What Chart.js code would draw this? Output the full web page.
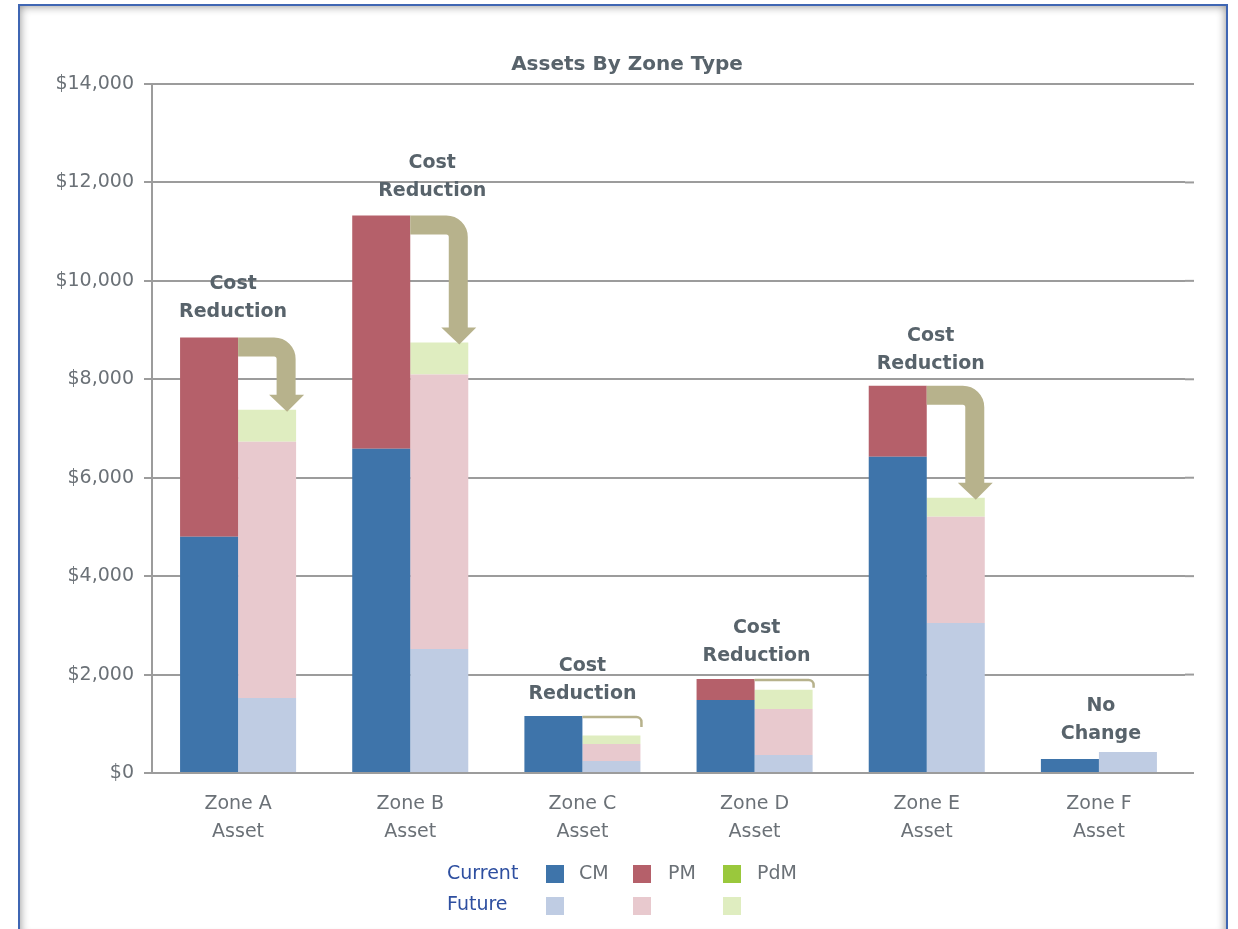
<!DOCTYPE html>
<html>
<head>
<meta charset="utf-8">
<title>Assets By Zone Type</title>
<script src="https://cdn.jsdelivr.net/npm/chart.js@4.4.0/dist/chart.umd.min.js"></script>
<style>
  html, body { margin: 0; padding: 0; background: #fff; }
  #wrap { position: relative; width: 1238px; height: 929px; overflow: hidden; }
  #myChart { position: absolute; left: 0; top: 0; }
  #frame {
    position: absolute; left: 18px; top: 4px; width: 1210px; height: 935px;
    box-sizing: border-box; border: 2px solid #3f66b3;
    box-shadow: inset 0 0 10px rgba(0, 0, 0, 0.45);
    pointer-events: none;
  }
</style>
</head>
<body>
<div id="wrap">
  <canvas id="myChart" width="1238" height="929"></canvas>
  <div id="frame"></div>
</div>
<script>
'use strict';

const zones = [['Zone A', 'Asset'], ['Zone B', 'Asset'], ['Zone C', 'Asset'], ['Zone D', 'Asset'], ['Zone E', 'Asset'], ['Zone F', 'Asset']];
const currentCM = [4800, 6590, 1160, 1485, 6425, 285];
const currentPM = [4050, 4740, 0, 425, 1445, 0];
const currentPdM = [0, 0, 0, 0, 0, 0];
const futureCM = [1525, 2520, 245, 365, 3050, 425];
const futurePM = [5205, 5575, 345, 935, 2155, 0];
const futurePdM = [650, 650, 170, 390, 390, 0];
const notes = [['Cost', 'Reduction'], ['Cost', 'Reduction'], ['Cost', 'Reduction'], ['Cost', 'Reduction'], ['Cost', 'Reduction'], ['No', 'Change']];
const yMax = 14000;
const yStep = 2000;
const chartTitle = 'Assets By Zone Type';
const rowNames = ['Current', 'Future'];
const typeNames = ['CM', 'PM', 'PdM'];

const colors = {
  current: ['#3e74aa', '#b5606a', '#9ac83c'],
  future: ['#bfcce3', '#e8c9ce', '#dfedc0']
};
const gridColor = '#9c9c9c';
const textGray = '#6b7177';
const noteGray = '#58636b';
const arrowColor = '#b7b28c';

function sumAt(arrs, i) {
  let s = 0;
  for (let a of arrs) s += a[i];
  return s;
}

// small nudges for the callout text, in pixels
const noteNudge = [[-5, -1], [22, 0], [0, 2], [2, 1], [4, 2], [2, 6]];

const extras = {
  id: 'extras',
  beforeDatasetsDraw(chart) {
    let ctx = chart.ctx;
    let y = chart.scales.y;
    let area = chart.chartArea;
    ctx.save();
    ctx.strokeStyle = gridColor;
    ctx.lineWidth = 2;
    y.ticks.forEach(t => {
      let py = y.getPixelForValue(t.value);
      ctx.beginPath();
      ctx.moveTo(area.right, py);
      ctx.lineTo(1194, py);
      ctx.stroke();
    });
    ctx.restore();
  },
  afterDatasetsDraw(chart) {
    let ctx = chart.ctx;
    let y = chart.scales.y;
    ctx.save();

    for (let i = 0; i < zones.length; i++) {
      let cur = chart.getDatasetMeta(0).data[i];
      let fut = chart.getDatasetMeta(3).data[i];
      let curTotal = sumAt([currentCM, currentPM, currentPdM], i);
      let futTotal = sumAt([futureCM, futurePM, futurePdM], i);
      let ct = y.getPixelForValue(curTotal);
      let ft = y.getPixelForValue(futTotal);
      let xr = cur.x + cur.width / 2;
      let fr = fut.x + fut.width / 2;

      ctx.strokeStyle = arrowColor;
      ctx.fillStyle = arrowColor;
      if (curTotal - futTotal > 1000) {
        // thick bent arrow
        let t = 19;
        let cx = fr - 10;
        let r = 12;
        let headH = 17;
        let tip = ft + 2;
        ctx.lineWidth = t;
        ctx.lineCap = 'butt';
        ctx.beginPath();
        ctx.moveTo(xr, ct + t / 2);
        ctx.lineTo(cx - r, ct + t / 2);
        ctx.arcTo(cx, ct + t / 2, cx, ct + t / 2 + r, r);
        ctx.lineTo(cx, tip - headH + 1);
        ctx.stroke();
        ctx.beginPath();
        ctx.moveTo(cx - 17, tip - headH);
        ctx.lineTo(cx + 18, tip - headH);
        ctx.lineTo(cx + 1, tip);
        ctx.closePath();
        ctx.fill();
      } else if (curTotal > futTotal) {
        // thin bracket
        let drop = Math.min(11, ft - ct - 2);
        let ex = fr + 1;
        ctx.lineWidth = 2.5;
        ctx.beginPath();
        ctx.moveTo(xr, ct + 1);
        ctx.lineTo(ex - 5, ct + 1);
        ctx.arcTo(ex, ct + 1, ex, ct + 6, 5);
        ctx.lineTo(ex, ct + drop);
        ctx.stroke();
      }

      // callout text
      let top = Math.min(ct, ft);
      let cxText = (cur.x + fut.x) / 2 + noteNudge[i][0];
      let base = top - 24 + noteNudge[i][1];
      ctx.fillStyle = noteGray;
      ctx.font = 'bold 19px "DejaVu Sans"';
      ctx.textAlign = 'center';
      ctx.textBaseline = 'middle';
      ctx.fillText(notes[i][1], cxText, base);
      ctx.fillText(notes[i][0], cxText, base - 28);
    }

    // title
    ctx.fillStyle = noteGray;
    ctx.font = 'bold 20px "DejaVu Sans"';
    ctx.textAlign = 'center';
    ctx.textBaseline = 'middle';
    ctx.fillText(chartTitle, 627, 65);

    // legend
    ctx.font = '19px "DejaVu Sans"';
    ctx.textAlign = 'left';
    ctx.fillStyle = '#2e4fa0';
    ctx.fillText(rowNames[0], 447, 874);
    ctx.fillText(rowNames[1], 447, 905);
    let boxX = [546, 633, 723];
    let nameX = [579, 668, 757];
    for (let k = 0; k < 3; k++) {
      ctx.fillStyle = chart.data.datasets[k].backgroundColor;
      ctx.fillRect(boxX[k], 865, 18, 18);
      ctx.fillStyle = chart.data.datasets[k + 3].backgroundColor;
      ctx.fillRect(boxX[k], 897, 18, 18);
      ctx.fillStyle = textGray;
      ctx.fillText(typeNames[k], nameX[k], 874);
    }
    ctx.restore();
  }
};

Chart.defaults.font.family = '"DejaVu Sans", sans-serif';
Chart.defaults.color = textGray;

let ctx = document.getElementById('myChart').getContext('2d');
let myChart = new Chart(ctx, {
  type: 'bar',
  data: {
    labels: zones,
    datasets: [
      { label: 'Current CM', data: currentCM, stack: 'current', backgroundColor: colors.current[0] },
      { label: 'Current PM', data: currentPM, stack: 'current', backgroundColor: colors.current[1] },
      { label: 'Current PdM', data: currentPdM, stack: 'current', backgroundColor: colors.current[2] },
      { label: 'Future CM', data: futureCM, stack: 'future', backgroundColor: colors.future[0] },
      { label: 'Future PM', data: futurePM, stack: 'future', backgroundColor: colors.future[1] },
      { label: 'Future PdM', data: futurePdM, stack: 'future', backgroundColor: colors.future[2] }
    ]
  },
  options: {
    responsive: false,
    animation: false,
    devicePixelRatio: 1,
    categoryPercentage: 0.674,
    barPercentage: 1,
    layout: { padding: { top: 84, right: 53, bottom: 76, left: 0 } },
    plugins: {
      legend: { display: false },
      title: { display: false },
      tooltip: { enabled: false }
    },
    scales: {
      x: {
        stacked: true,
        grid: { display: false, drawTicks: false },
        border: { display: false },
        ticks: { font: { size: 19, lineHeight: 1.47 }, color: textGray, padding: 17, maxRotation: 0 },
        afterFit(s) { s.height = 80; }
      },
      y: {
        stacked: true,
        min: 0,
        max: yMax,
        ticks: {
          stepSize: yStep,
          padding: 10,
          font: { size: 19 },
          color: textGray,
          callback: v => '$' + v.toLocaleString('en-US')
        },
        grid: { color: gridColor, lineWidth: 2, tickLength: 8 },
        border: { display: true, color: gridColor, width: 2 },
        afterFit(s) { s.width = 152; }
      }
    }
  },
  plugins: [extras]
});
</script>
</body>
</html>
